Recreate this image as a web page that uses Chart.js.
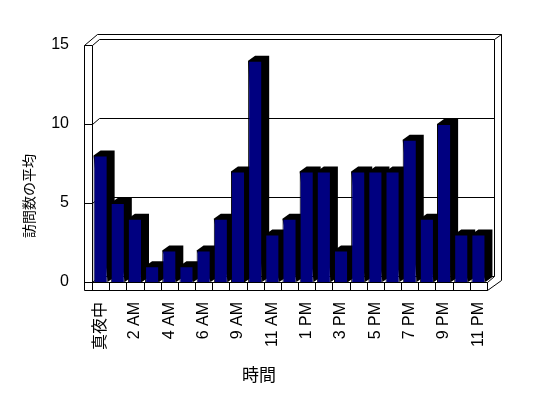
<!DOCTYPE html>
<html>
<head>
<meta charset="utf-8">
<script src="https://cdn.jsdelivr.net/npm/chart.js@4/dist/chart.umd.min.js"></script>
<style>
  html, body { margin: 0; padding: 0; background: #fff; }
  #wrap { width: 548px; height: 398px; }
</style>
</head>
<body>
<div id="wrap"><canvas id="chart" width="548" height="398"></canvas></div>
<script>
const hours = ["真夜中", "1 AM", "2 AM", "3 AM", "4 AM", "5 AM", "6 AM", "8 AM", "9 AM", "10 AM", "11 AM", "12 PM",
    "1 PM", "2 PM", "3 PM", "4 PM", "5 PM", "6 PM", "7 PM", "8 PM", "9 PM", "10 PM", "11 PM"];
const avgVisits = [8, 5, 4, 1, 2, 1, 2, 4, 7, 14, 3, 4, 7, 7, 2, 7, 7, 7, 9, 4, 10, 3, 3];
const yTicks = [0, 5, 10, 15];
const xTitle = "時間";
const yTitle = "訪問数の平均";

const fontFamily = "'Liberation Sans', 'Noto Sans CJK JP', sans-serif";
const cjkFamily = "'Noto Sans CJK JP', 'Liberation Sans', sans-serif";

// fake 3d box + bar extrusions, drawn around the normal bar elements
const box3d = {
    id: "box3d",
    beforeDatasetsDraw(chart) {
        const { ctx, chartArea: a, scales } = chart;
        const L = a.left, R = a.right, T = a.top, B = a.bottom;
        const ys = scales.y;
        const xs = scales.x;

        ctx.save();
        ctx.strokeStyle = "#000";
        ctx.lineWidth = 1;
        const line = (pts) => {
            ctx.beginPath();
            pts.forEach(([px, py], i) => {
                const fx = Math.round(px) + 0.5, fy = Math.round(py) + 0.5;
                if (i === 0) ctx.moveTo(fx, fy); else ctx.lineTo(fx, fy);
            });
            ctx.stroke();
        };

        // back wall, outer and inner edges
        line([[L - 8, T], [L + 5, T - 11], [R + 14, T - 11], [R + 14, B - 2]]);
        line([[L, T], [L + 7, T - 6], [R + 7, T - 6], [R + 7, B - 6]]);
        line([[R + 7, T - 6], [R + 14, T - 11]]);
        // left wall front face
        line([[L - 8, T], [L, T]]);
        line([[L - 8, T], [L - 8, B + 8]]);
        line([[L, T], [L, B]]);

        // gridlines on back wall + tick lines across the left wall
        yTicks.forEach((v) => {
            const py = ys.getPixelForValue(v);
            if (v < yTicks[yTicks.length - 1]) {
                line([[L - 8, py], [L, py], [L + 7, py - 6], [R + 7, py - 6]]);
            }
        });

        // floor front face with category dividers
        line([[L - 8, B], [R, B], [R, B + 8], [L - 8, B + 8]]);
        const w = (R - L) / hours.length;
        for (let i = 0; i <= hours.length; i++) {
            const px = xs.getPixelForValue(i) - w / 2;
            line([[px, B], [px, B + 8]]);
        }
        line([[R, B + 8], [R + 14, B - 2]]);
        line([[R, B], [R + 7, B - 6]]);

        // bar tops and sides
        const dx = 7, dy = -5;
        ctx.fillStyle = "#000";
        chart.getDatasetMeta(0).data.forEach((bar) => {
            const x0 = bar.x - bar.width / 2;
            const x1 = bar.x + bar.width / 2;
            const top = bar.y, base = bar.base;
            ctx.beginPath();
            ctx.moveTo(x0, top);
            ctx.lineTo(x0 + dx, top + dy);
            ctx.lineTo(x1 + dx, top + dy);
            ctx.lineTo(x1 + dx, base + dy);
            ctx.lineTo(x1, base);
            ctx.closePath();
            ctx.fill();
        });
        ctx.restore();
    },
    afterDraw(chart) {
        const { ctx } = chart;
        ctx.save();
        ctx.fillStyle = "#000";
        ctx.textAlign = "center";
        ctx.textBaseline = "middle";
        ctx.font = "17px " + cjkFamily;
        ctx.fillText(xTitle, 259, 375);
        ctx.translate(29, 196);
        ctx.rotate(-Math.PI / 2);
        ctx.font = "14px " + cjkFamily;
        ctx.fillText(yTitle, 0, 0);
        ctx.restore();
    }
};

new Chart(document.getElementById("chart").getContext("2d"), {
    type: "bar",
    data: {
        labels: hours,
        datasets: [{
            label: yTitle,
            data: avgVisits,
            backgroundColor: "#000080",
            borderColor: "#000",
            borderWidth: 1,
            barPercentage: 0.82,
            categoryPercentage: 1
        }]
    },
    options: {
        responsive: false,
        animation: false,
        layout: { padding: { top: 45, right: 61, left: 0, bottom: 0 } },
        plugins: { legend: { display: false }, tooltip: { enabled: false } },
        scales: {
            x: {
                grid: { display: false, drawTicks: false },
                border: { display: false },
                ticks: {
                    autoSkip: false,
                    minRotation: 90,
                    maxRotation: 90,
                    padding: 20,
                    color: "#000",
                    font: { family: fontFamily, size: 16 },
                    callback: (val, i) => (i % 2 === 0 ? hours[i] : "")
                },
                afterFit: (scale) => { scale.height = 116; }
            },
            y: {
                min: 0,
                max: 15,
                grid: { display: false, drawTicks: false },
                border: { display: false },
                ticks: {
                    stepSize: 5,
                    padding: 23,
                    color: "#000",
                    font: { family: fontFamily, size: 16 }
                },
                afterFit: (scale) => { scale.width = 92; }
            }
        }
    },
    plugins: [box3d]
});
</script>
</body>
</html>
